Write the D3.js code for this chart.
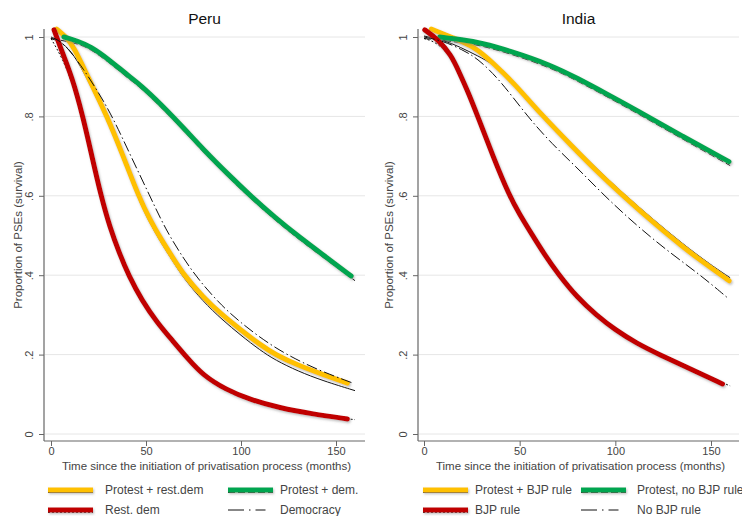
<!DOCTYPE html>
<html>
<head>
<meta charset="utf-8">
<script src="https://cdn.jsdelivr.net/npm/d3@7"></script>
<style>
  body { margin: 0; background: #fff; }
  svg { font-family: "Liberation Sans", Arial, sans-serif; }
</style>
</head>
<body>
<svg id="chart" width="742" height="516"></svg>
<script>
// ---- data (months, survival proportion) ----
const yTicks = [0, 0.2, 0.4, 0.6, 0.8, 1];
const yTickLabels = ['0', '.2', '.4', '.6', '.8', '1'];
const xTicks = [0, 50, 100, 150];

// Peru
const peruProtestRestDem = [[3, 1.02], [8, 1.0], [12, 0.975], [19, 0.904], [29.6, 0.8], [38, 0.7], [46, 0.6], [52, 0.54], [58, 0.49], [64, 0.445], [70, 0.4], [80, 0.345], [90, 0.3], [100, 0.262], [110, 0.225], [118, 0.2], [130, 0.173], [143, 0.15], [156, 0.128]];
const peruProtestRestDemFit = [[0, 1.0], [6, 0.99], [12, 0.96], [19, 0.9], [29.6, 0.795], [38, 0.695], [46, 0.595], [52, 0.535], [58, 0.485], [64, 0.44], [70, 0.395], [80, 0.338], [90, 0.292], [100, 0.252], [110, 0.215], [118, 0.19], [130, 0.162], [143, 0.138], [160, 0.113]];
const peruProtestDem = [[6.8, 1.0], [14, 0.99], [20.9, 0.976], [30, 0.945], [40, 0.905], [47.2, 0.879], [58, 0.83], [70, 0.77], [80.5, 0.715], [93, 0.655], [105, 0.6], [118, 0.545], [131, 0.495], [145, 0.445], [158, 0.398]];
const peruProtestDemFit = [[0, 1.0], [14, 0.988], [20.9, 0.973], [30, 0.942], [40, 0.902], [47.2, 0.876], [58, 0.827], [70, 0.767], [80.5, 0.712], [93, 0.652], [105, 0.597], [118, 0.542], [131, 0.492], [145, 0.442], [160, 0.39]];
const peruRestDem = [[1.6, 1.018], [6, 0.96], [11, 0.9], [16.8, 0.8], [21.5, 0.7], [26.3, 0.6], [31, 0.52], [36, 0.455], [40.8, 0.4], [48, 0.335], [56, 0.28], [64, 0.235], [72, 0.19], [80, 0.148], [92, 0.112], [105, 0.086], [120, 0.066], [138, 0.05], [156, 0.038]];
const peruRestDemFit = [[0, 1.0], [6, 0.95], [11, 0.89], [16.8, 0.795], [21.5, 0.695], [26.3, 0.597], [31, 0.517], [36, 0.452], [40.8, 0.398], [48, 0.333], [56, 0.278], [64, 0.233], [72, 0.189], [80, 0.147], [92, 0.111], [105, 0.086], [120, 0.066], [138, 0.05], [160, 0.04]];
const peruDemocracy = [[0, 1.0], [5, 0.99], [10, 0.965], [17, 0.92], [25, 0.86], [32.3, 0.8], [42, 0.7], [52, 0.6], [60.3, 0.515], [70, 0.44], [78.4, 0.384], [90, 0.322], [100, 0.28], [112, 0.236], [124, 0.2], [140, 0.162], [159, 0.128]];

// India
const indiaProtestBjp = [[3.8, 1.02], [15, 0.998], [26.4, 0.976], [36, 0.935], [47, 0.884], [61, 0.806], [78, 0.722], [90, 0.663], [104.7, 0.597], [120, 0.532], [135, 0.472], [150, 0.418], [159.5, 0.386]];
const indiaProtestBjpFit = [[0, 1.0], [10, 0.99], [19, 0.972], [28, 0.95], [36, 0.93], [47, 0.886], [61, 0.808], [78, 0.725], [90, 0.667], [104.7, 0.601], [120, 0.537], [135, 0.477], [150, 0.423], [160, 0.391]];
const indiaProtestNoBjp = [[8.2, 1.0], [20, 0.993], [30, 0.985], [45, 0.965], [66, 0.93], [80.2, 0.896], [95, 0.858], [111, 0.816], [135, 0.75], [159.4, 0.686]];
const indiaProtestNoBjpFit = [[0, 1.0], [20, 0.99], [30, 0.982], [45, 0.962], [66, 0.927], [80.2, 0.893], [95, 0.855], [111, 0.813], [135, 0.747], [160, 0.68]];
const indiaBjp = [[0.4, 1.018], [7, 0.995], [14.2, 0.955], [18.5, 0.91], [23, 0.862], [28.1, 0.8], [36, 0.7], [44.6, 0.6], [50, 0.553], [56.5, 0.502], [63, 0.452], [69.8, 0.405], [80.2, 0.343], [90, 0.3], [100, 0.262], [111, 0.229], [123, 0.2], [140, 0.162], [156, 0.126]];
const indiaBjpFit = [[0, 1.0], [7, 0.99], [14.2, 0.952], [18.5, 0.907], [23, 0.859], [28.1, 0.797], [36, 0.698], [44.6, 0.598], [50, 0.551], [56.5, 0.5], [63, 0.451], [69.8, 0.405], [80.2, 0.344], [90, 0.302], [100, 0.264], [111, 0.231], [123, 0.203], [140, 0.164], [160, 0.125]];
const indiaNoBjp = [[0, 1.0], [10, 0.99], [20, 0.968], [28.1, 0.946], [40, 0.89], [54, 0.8], [67, 0.73], [80.4, 0.669], [94.3, 0.6], [110, 0.53], [127, 0.462], [144.6, 0.4], [158.9, 0.342]];

const peruLabels = ['Protest + rest.dem', 'Protest + dem.', 'Rest. dem', 'Democracy'];
const indiaLabels = ['Protest + BJP rule', 'Protest, no BJP rule', 'BJP rule', 'No BJP rule'];

// ---- styles ----
const YELLOW = '#ffc000', GREEN = '#00a550', RED = '#c00000';
const FIT_DASH = ['none', '7,3', '2,2'];
const DEM_DASH = '11,3,1.5,3';

const panels = [
  {
    title: 'Peru', x0: 0, axisX: 44, right: 365, zeroX: 51, x150: 336,
    thick: [peruProtestRestDem, peruProtestDem, peruRestDem],
    fits: [peruProtestRestDemFit, peruProtestDemFit, peruRestDemFit],
    fitShift: [1.5, 1.5, 1.5],
    ref: peruDemocracy, labels: peruLabels,
    legend: { c1: 48, t1: 105, c2: 228, t2: 280 }
  },
  {
    title: 'India', x0: 371, axisX: 418, right: 739, zeroX: 424, x150: 711,
    thick: [indiaProtestBjp, indiaProtestNoBjp, indiaBjp],
    fits: [indiaProtestBjpFit, indiaProtestNoBjpFit, indiaBjpFit],
    fitShift: [-1, 1.5, 1.5],
    ref: indiaNoBjp, labels: indiaLabels,
    legend: { c1: 423, t1: 475, c2: 581, t2: 637 }
  }
];
const colors = [YELLOW, GREEN, RED];

const svg = d3.select('#chart');

// soft shadow under the thick lines
svg.append('defs').append('filter')
    .attr('id', 'shadow')
    .attr('filterUnits', 'userSpaceOnUse')
    .attr('x', 0).attr('y', 0).attr('width', 742).attr('height', 516)
  .append('feDropShadow')
    .attr('dx', 1).attr('dy', 1.5).attr('stdDeviation', 0.8)
    .attr('flood-color', '#777').attr('flood-opacity', 0.5);

const y = d3.scaleLinear().domain([0, 1]).range([434, 37]);
const axisBottomY = 441;
const tickColor = '#666', labelColor = '#444';

panels.forEach(p => {
  const x = d3.scaleLinear().domain([0, 150]).range([p.zeroX, p.x150]);
  const g = svg.append('g');
  const line = d3.line().x(d => x(d[0])).y(d => y(d[1])).curve(d3.curveBasis);

  // title
  g.append('text')
    .attr('x', (p.axisX + p.right) / 2).attr('y', 24)
    .attr('text-anchor', 'middle')
    .style('font-size', '15.5px').style('fill', '#111')
    .text(p.title);

  // grid
  g.selectAll('.grid').data(yTicks).enter()
    .append('line')
      .attr('x1', p.axisX + 1).attr('x2', p.right)
      .attr('y1', d => y(d)).attr('y2', d => y(d))
      .style('stroke', '#e6e6e6').style('stroke-width', 1);

  // y axis
  const yAxis = g.append('g')
    .attr('transform', `translate(${p.axisX},0)`)
    .call(d3.axisLeft(y).tickValues(yTicks).tickSize(5).tickSizeOuter(0)
      .tickFormat((d, i) => yTickLabels[i]));
  yAxis.select('.domain').remove();
  yAxis.selectAll('.tick line').style('stroke', tickColor);
  yAxis.selectAll('.tick text')
    .attr('x', 0).attr('dy', 0)
    .attr('transform', 'translate(-11,0) rotate(-90)')
    .attr('text-anchor', 'middle')
    .style('font-size', '11px').style('fill', labelColor)
    .style('font-family', '"Liberation Sans", Arial, sans-serif');
  g.append('line')
    .attr('x1', p.axisX).attr('x2', p.axisX)
    .attr('y1', 29).attr('y2', axisBottomY)
    .style('stroke', tickColor).style('stroke-width', 1.2);

  // x axis
  const xAxis = g.append('g')
    .attr('transform', `translate(0,${axisBottomY})`)
    .call(d3.axisBottom(x).tickValues(xTicks).tickSize(5).tickSizeOuter(0));
  xAxis.select('.domain').remove();
  xAxis.selectAll('.tick line').style('stroke', tickColor);
  xAxis.selectAll('.tick text')
    .attr('y', 6)
    .style('font-size', '11px').style('fill', labelColor)
    .style('font-family', '"Liberation Sans", Arial, sans-serif');
  g.append('line')
    .attr('x1', p.axisX).attr('x2', p.right)
    .attr('y1', axisBottomY).attr('y2', axisBottomY)
    .style('stroke', tickColor).style('stroke-width', 1.2);

  // axis titles
  g.append('text')
    .attr('x', (p.axisX + p.right) / 2 + 2).attr('y', 470)
    .attr('text-anchor', 'middle')
    .style('font-size', '11.5px').style('fill', labelColor)
    .text('Time since the initiation of privatisation process (months)');
  g.append('text')
    .attr('transform', `translate(${p.x0 + 22},235) rotate(-90)`)
    .attr('text-anchor', 'middle')
    .style('font-size', '11.5px').style('fill', labelColor)
    .text('Proportion of PSEs (survival)');

  // thin companion lines, under the thick ones
  p.fits.forEach((s, i) => {
    g.append('path')
      .datum(s)
      .attr('d', line)
      .attr('transform', `translate(0,${p.fitShift[i]})`)
      .style('fill', 'none').style('stroke', '#111')
      .style('stroke-width', 1)
      .style('stroke-dasharray', FIT_DASH[i]);
  });

  // thick smoothed lines
  p.thick.forEach((s, i) => {
    g.append('path')
      .datum(s)
      .attr('d', line)
      .attr('filter', 'url(#shadow)')
      .style('fill', 'none').style('stroke', colors[i])
      .style('stroke-width', 5)
      .style('stroke-linecap', 'round');
  });

  // reference dash-dot line
  g.append('path')
    .datum(p.ref)
    .attr('d', line)
    .style('fill', 'none').style('stroke', '#111')
    .style('stroke-width', 1)
    .style('stroke-dasharray', DEM_DASH);

  // legend
  const L = p.legend;
  const items = [
    { sx: L.c1, tx: L.t1, ly: 490, i: 0 },
    { sx: L.c2, tx: L.t2, ly: 490, i: 1 },
    { sx: L.c1, tx: L.t1, ly: 510, i: 2 },
    { sx: L.c2, tx: L.t2, ly: 510, i: 3 }
  ];
  items.forEach(it => {
    if (it.i < 3) {
      g.append('line')
        .attr('x1', it.sx).attr('x2', it.sx + 45)
        .attr('y1', it.ly + 2.5).attr('y2', it.ly + 2.5)
        .style('stroke', '#111').style('stroke-width', 1)
        .style('stroke-dasharray', FIT_DASH[it.i]);
      g.append('line')
        .attr('x1', it.sx).attr('x2', it.sx + 45)
        .attr('y1', it.ly).attr('y2', it.ly)
        .attr('filter', 'url(#shadow)')
        .style('stroke', colors[it.i]).style('stroke-width', 5);
    } else {
      g.append('line')
        .attr('x1', it.sx).attr('x2', it.sx + 45)
        .attr('y1', it.ly).attr('y2', it.ly)
        .style('stroke', '#111').style('stroke-width', 1)
        .style('stroke-dasharray', '16,5,1.5,5,10');
    }
    g.append('text')
      .attr('x', it.tx).attr('y', it.ly + 4)
      .style('font-size', '12px').style('fill', labelColor)
      .text(p.labels[it.i]);
  });
});
</script>
</body>
</html>
